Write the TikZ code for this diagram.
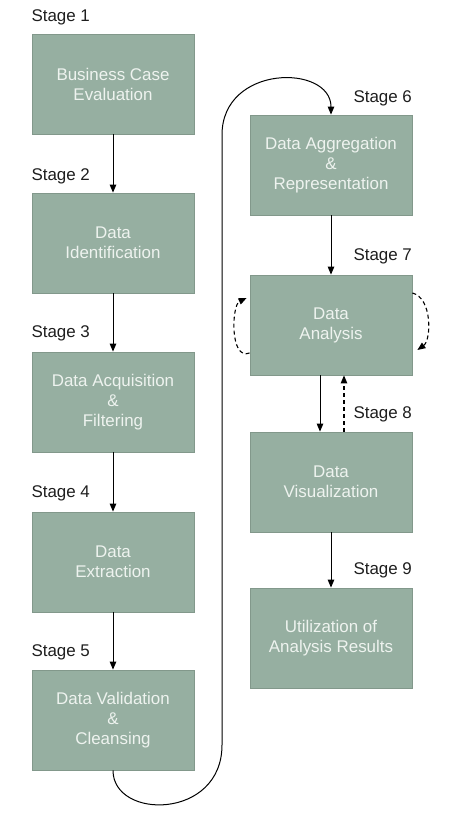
\documentclass[tikz,border=0pt]{standalone}
\usepackage{fontspec}
\setmainfont{Liberation Sans}
\usetikzlibrary{arrows.meta}
\definecolor{stagegreen}{RGB}{150,175,161}
\definecolor{boxedge}{RGB}{130,152,139}
\definecolor{boxtext}{RGB}{238,243,239}
\definecolor{labeltext}{RGB}{30,30,30}
\begin{document}
\begin{tikzpicture}[x=1bp,y=1bp,>={Triangle[length=8bp,width=6.5bp]},line width=1bp,
  stagebox/.style={draw=boxedge,line width=0.8bp,fill=stagegreen,text=boxtext,minimum width=162bp,
    minimum height=100bp,inner sep=0pt,align=center,font=\fontsize{17}{20}\selectfont},
  stagelabel/.style={anchor=west,inner sep=0pt,text=labeltext,font=\fontsize{17}{20}\selectfont},
  iter/.style={->,dash pattern=on 4bp off 3bp,line width=1.1bp}]
\useasboundingbox (0,0) rectangle (450,815);

% left column
\node[stagebox] (A) at (113,731) {Business Case\\Evaluation};
\node[stagebox] (B) at (113,572) {Data\\Identification};
\node[stagebox] (C) at (113,413) {Data Acquisition\\\&\\Filtering};
\node[stagebox] (D) at (113,253) {Data\\Extraction};
\node[stagebox] (E) at (113,95) {Data Validation\\\&\\Cleansing};

% right column
\node[stagebox] (F) at (331,650) {Data Aggregation\\\&\\Representation};
\node[stagebox] (G) at (331,490) {Data\\Analysis};
\node[stagebox] (H) at (331,333) {Data\\Visualization};
\node[stagebox] (I) at (331,177) {Utilization of\\Analysis Results};

\node[stagelabel] (LA) at (31,798) {Stage 1};
\node[stagelabel] (LB) at (31,639) {Stage 2};
\node[stagelabel] (LC) at (31,482) {Stage 3};
\node[stagelabel] (LD) at (31,322) {Stage 4};
\node[stagelabel] (LE) at (31,163) {Stage 5};
\node[stagelabel] (LF) at (353,717) {Stage 6};
\node[stagelabel] (LG) at (353,559) {Stage 7};
\node[stagelabel] (LH) at (353,401) {Stage 8};
\node[stagelabel] (LI) at (353,245) {Stage 9};

  \draw[->] (A) -- (B);
  \draw[->] (B) -- (C);
  \draw[->] (C) -- (D);
  \draw[->] (D) -- (E);
  \draw[->] (E.south) .. controls (113,-5) and (222,-5) .. (222,70) -- (222,680)
     .. controls (222,751) and (331,751) .. (F.north);
  \draw[->] (F) -- (G);
  \draw[->] ([xshift=-11bp]G.south) -- ([xshift=-11bp]H.north);
  \draw[iter] ([xshift=13bp]H.north) -- ([xshift=13bp]G.south);
  \draw[->] (H) -- (I);

  % iteration loops
  \draw[iter] ([yshift=-28bp]G.west) .. controls +(-20,-8) and +(-15,-7) .. ([xshift=-3bp,yshift=27bp]G.west);
  \draw[iter] ([yshift=32bp]G.east) .. controls +(20,-5) and +(14,10) .. ([xshift=5bp,yshift=-25bp]G.east);
\end{tikzpicture}
\end{document}
